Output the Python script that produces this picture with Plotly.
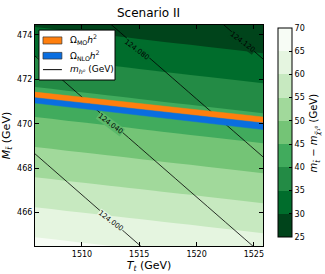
import plotly.graph_objects as go

x_grid = [1505, 1515, 1527]          # T_t (GeV)
y_grid = [464, 469, 475]             # M_t (GeV)

# mass difference m_stop - m_chi (GeV), rows follow y_grid
dm_values = [
    [68.52, 66.33, 63.70],
    [50.02, 47.83, 45.20],
    [27.82, 25.63, 23.00],
]

# Higgs mass (GeV), rows follow y_grid
mh_values = [
    [123.9542, 123.9950, 124.0440],
    [123.9995, 124.0404, 124.0893],
    [124.0540, 124.0948, 124.1438],
]

# relic-density bands (edges at x_edges)
x_edges = [1505, 1527]
mo_upper = [471.48, 470.24]
mo_lower = [471.23, 469.97]
nlo_lower = [470.99, 469.67]

dm_levels = [30, 65, 5]              # inner boundaries; bands span 25..70
dm_range = [25, 70]
dm_ticks = [25, 30, 35, 40, 45, 50, 55, 60, 65, 70]
mh_levels = [124.0, 124.12, 0.04]

# inline contour labels: text, position (T_t, M_t)
mh_label_text = ["124.000", "124.040", "124.080", "124.120"]
mh_label_x = [1512.5, 1512.5, 1514.8, 1524.0]
mh_label_y = [465.61, 470.0, 473.31, 473.68]
mh_label_bg = ["#e5f5e0", "#5bb86a", "#006d2c", "#00441b"]

greens = ["#00441b", "#006d2c", "#238b45", "#41ab5d", "#74c476",
          "#a1d99b", "#c7e9c0", "#e5f5e0", "#f7fcf5"]
cs_fill = [[i / (len(greens) - 1), c] for i, c in enumerate(greens)]
cs_bar = []
for i, c in enumerate(greens):
    cs_bar.append([i / len(greens), c])
    cs_bar.append([(i + 1) / len(greens), c])

legend_labels = ["Ω<sub>MO</sub><i>h</i><sup>2</sup>",
                 "Ω<sub>NLO</sub><i>h</i><sup>2</sup>",
                 "<i>m</i><sub><i>h⁰</i></sub> (GeV)"]
orange = "#ff7f0e"
blue = "#0a6ee0"

FONT = "DejaVu Sans"

fig = go.Figure()

fig.add_trace(go.Contour(
    x=x_grid, y=y_grid, z=dm_values,
    colorscale=cs_fill,
    contours=dict(start=dm_levels[0], end=dm_levels[1], size=dm_levels[2], coloring="fill"),
    line=dict(width=0),
    showlegend=False, showscale=False,
    hoverinfo="skip",
))

# colour bar (discrete bands 25..70)
fig.add_trace(go.Scatter(
    x=[None, None], y=[None, None], mode="markers",
    marker=dict(color=dm_range, cmin=dm_range[0], cmax=dm_range[1], colorscale=cs_bar,
                showscale=True, opacity=0,
                colorbar=dict(
                    x=1.066, xanchor="left", xpad=0, ypad=0,
                    y=0.5136, yanchor="middle", len=0.946, lenmode="fraction",
                    thickness=14, outlinecolor="black", outlinewidth=1,
                    tickvals=dm_ticks,
                    ticks="inside", ticklen=3, tickcolor="black",
                    tickfont=dict(size=8, family=FONT, color="black"),
                )),
    showlegend=False, hoverinfo="skip",
))

fig.add_trace(go.Scatter(
    x=x_edges + x_edges[::-1], y=mo_upper + mo_lower[::-1],
    fill="toself", fillcolor=orange, mode="lines",
    line=dict(color=orange, width=0.5), showlegend=False, hoverinfo="skip",
))
fig.add_trace(go.Scatter(
    x=x_edges + x_edges[::-1], y=mo_lower + nlo_lower[::-1],
    fill="toself", fillcolor=blue, mode="lines",
    line=dict(color=blue, width=0.5), showlegend=False, hoverinfo="skip",
))

fig.add_trace(go.Contour(
    x=x_grid, y=y_grid, z=mh_values,
    contours=dict(start=mh_levels[0], end=mh_levels[1], size=mh_levels[2],
                  coloring="lines", showlabels=False),
    colorscale=[[0, "black"], [1, "black"]],
    line=dict(width=0.8, color="black"),
    showscale=False, showlegend=False, hoverinfo="skip",
))

for t, xx, yy, bg in zip(mh_label_text, mh_label_x, mh_label_y, mh_label_bg):
    fig.add_annotation(text=t, x=xx, y=yy, xref="x", yref="y", showarrow=False,
                       textangle=37, bgcolor=bg, borderpad=0,
                       font=dict(size=7, family=FONT, color="black"))

# colour-bar title
fig.add_annotation(text="<i>m</i><sub><i>t̃</i></sub> − <i>m</i><sub><i>χ̃</i>₁⁰</sub> (GeV)",
                   xref="paper", yref="paper", x=1.228, y=0.5136, textangle=-90,
                   xanchor="center", yanchor="middle", showarrow=False,
                   font=dict(size=10, family=FONT, color="black"))

# matplotlib-style legend box in paper coordinates
fig.add_shape(type="rect", xref="paper", yref="paper", x0=0.0175, x1=0.351, y0=0.751, y1=0.977,
              fillcolor="white", line=dict(color="black", width=1), layer="above")
fig.add_shape(type="rect", xref="paper", yref="paper", x0=0.035, x1=0.118, y0=0.914, y1=0.946,
              fillcolor=orange, line=dict(color="#333333", width=0.7), layer="above")
fig.add_shape(type="rect", xref="paper", yref="paper", x0=0.035, x1=0.118, y0=0.846, y1=0.876,
              fillcolor=blue, line=dict(color="#333333", width=0.7), layer="above")
fig.add_shape(type="line", xref="paper", yref="paper", x0=0.035, x1=0.118, y0=0.798, y1=0.798,
              line=dict(color="black", width=1), layer="above")
for lab, yy in zip(legend_labels, [0.933, 0.863, 0.798]):
    fig.add_annotation(text=lab, xref="paper", yref="paper", x=0.145, y=yy,
                       xanchor="left", yanchor="middle", showarrow=False,
                       font=dict(size=9, family=FONT, color="black"))

axis_common = dict(
    showline=True, linecolor="black", linewidth=1, mirror="allticks",
    ticks="inside", ticklen=4, tickcolor="black",
    tickfont=dict(size=8, family=FONT, color="black"),
    showgrid=False, zeroline=False, automargin=False,
)

fig.update_layout(
    width=325, height=274,
    margin=dict(l=35, r=62, t=25, b=28),
    paper_bgcolor="white", plot_bgcolor="white",
    title=dict(text="Scenario II", x=0.457, xanchor="center", y=0.953, yanchor="middle",
               font=dict(size=12, family=FONT, color="black")),
    xaxis=dict(range=[1505.9, 1525.8], tickvals=[1510, 1515, 1520, 1525],
               title=dict(text="<i>T<sub>t</sub></i> (GeV)", standoff=2,
                          font=dict(size=11, family=FONT, color="black")),
               **axis_common),
    yaxis=dict(range=[464.5, 474.45], tickvals=[466, 468, 470, 472, 474],
               title=dict(text="<i>M<sub>t̃</sub></i> (GeV)", standoff=4,
                          font=dict(size=11, family=FONT, color="black")),
               **axis_common),
    showlegend=False,
    font=dict(family=FONT),
)

fig.write_html("out.html", config={"displayModeBar": False},
               post_script="document.body.style.margin='0px';")
